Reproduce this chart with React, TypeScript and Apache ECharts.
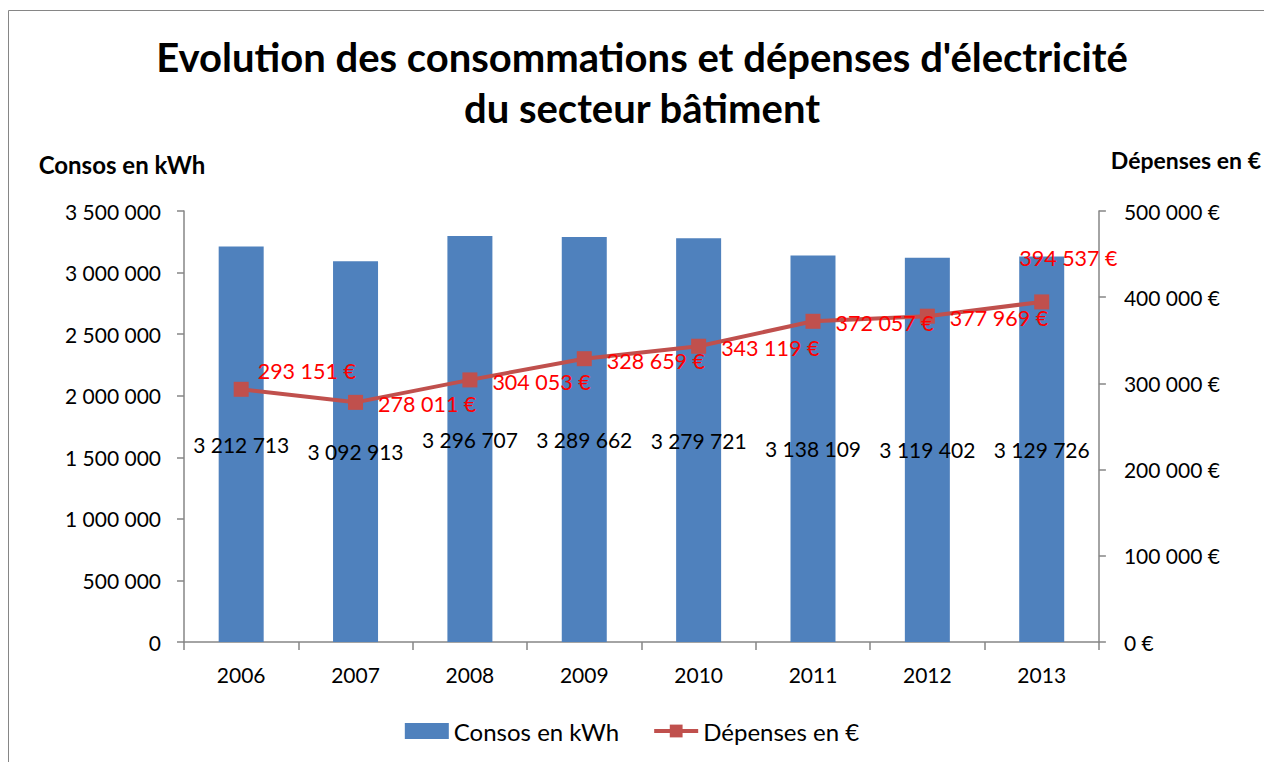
import React, { useEffect, useRef } from "react";
import * as echarts from "echarts";

const years = ["2006", "2007", "2008", "2009", "2010", "2011", "2012", "2013"];
const consos = [3212713, 3092913, 3296707, 3289662, 3279721, 3138109, 3119402, 3129726];
const depenses = [293151, 278011, 304053, 328659, 343119, 372057, 377969, 394537];
const titleLine1 = "Evolution des consommations et dépenses d'électricité";
const titleLine2 = "du secteur bâtiment";
const leftAxisName = "Consos en kWh";
const rightAxisName = "Dépenses en €";
const seriesNames = ["Consos en kWh", "Dépenses en €"];

const FONT = "Lato";
const fmt = (n: number) => Math.round(n).toString().replace(/\B(?=(\d{3})+(?!\d))/g, " ");

export default function App() {
  const ref = useRef<HTMLDivElement>(null);
  useEffect(() => {
    if (!ref.current) return;
    const chart = echarts.init(ref.current, null, { renderer: "svg" });
    const lineData = depenses.map((v, i) => {
      if (i === 0) return { value: v, label: { offset: [-6, -18] } };
      if (i === depenses.length - 1) return { value: v, label: { offset: [-45, -44] } };
      return { value: v, label: { offset: [0, 2] } };
    });
    chart.setOption({
      animation: false,
      backgroundColor: "#ffffff",
      textStyle: { fontFamily: FONT },
      title: [
        {
          text: titleLine1,
          left: 637,
          textAlign: "center",
          top: 32,
          textStyle: { fontFamily: FONT, fontSize: 40, fontWeight: "bold", color: "#000" },
        },
        {
          text: titleLine2,
          left: 637,
          textAlign: "center",
          top: 83,
          textStyle: { fontFamily: FONT, fontSize: 40, fontWeight: "bold", color: "#000" },
        },
      ],
      graphic: [
        {
          type: "rect",
          z: -10,
          shape: { x: 8.5, y: 10.5, width: 1300, height: 800 },
          style: { fill: "none", stroke: "#868686", lineWidth: 1 },
        },
      ],
      legend: {
        bottom: 19,
        left: "center",
        padding: [0, 0, 0, 28],
        itemWidth: 44,
        itemHeight: 16,
        itemGap: 33,
        textStyle: { fontFamily: FONT, fontSize: 24, color: "#000" },
        data: [
          { name: seriesNames[0], icon: "rect" },
          { name: seriesNames[1], lineStyle: { width: 4 } },
        ],
      },
      grid: { left: 184, right: 164, top: 211, bottom: 120 },
      xAxis: {
        type: "category",
        data: years,
        axisLine: { lineStyle: { color: "#868686", width: 1.5 } },
        axisTick: { show: true, length: 8, lineStyle: { color: "#868686", width: 1.5 } },
        axisLabel: { color: "#000", fontSize: 21, fontFamily: FONT, margin: 22 },
      },
      yAxis: [
        {
          type: "value",
          min: 0,
          max: 3500000,
          interval: 500000,
          name: leftAxisName,
          nameLocation: "end",
          nameGap: 35,
          nameTextStyle: {
            fontFamily: FONT,
            fontSize: 24,
            fontWeight: "bold",
            color: "#000",
            align: "center",
            padding: [0, 124, 0, 0],
          },
          splitLine: { show: false },
          axisLine: { show: true, lineStyle: { color: "#868686", width: 1.5 } },
          axisTick: { show: true, length: 7, lineStyle: { color: "#868686", width: 1.5 } },
          axisLabel: { color: "#000", fontSize: 21, fontFamily: FONT, margin: 23, formatter: (v: number) => fmt(v) },
        },
        {
          type: "value",
          min: 0,
          max: 500000,
          interval: 100000,
          position: "right",
          name: rightAxisName,
          nameLocation: "end",
          nameGap: 40,
          nameTextStyle: {
            fontFamily: FONT,
            fontSize: 23,
            fontWeight: "bold",
            color: "#000",
            align: "center",
            padding: [0, 0, 0, 174],
          },
          splitLine: { show: false },
          axisLine: { show: true, lineStyle: { color: "#868686", width: 1.5 } },
          axisTick: { show: true, length: 7, lineStyle: { color: "#868686", width: 1.5 } },
          axisLabel: { color: "#000", fontSize: 21, fontFamily: FONT, margin: 25, formatter: (v: number) => fmt(v) + " €" },
        },
      ],
      series: [
        {
          name: seriesNames[0],
          type: "bar",
          data: consos,
          barWidth: 45,
          itemStyle: { color: "#4F81BD" },
          label: {
            show: true,
            position: "inside",
            color: "#000",
            fontSize: 21,
            fontFamily: FONT,
            formatter: (p: any) => fmt(p.value),
          },
        },
        {
          name: seriesNames[1],
          type: "line",
          yAxisIndex: 1,
          data: lineData,
          symbol: "rect",
          symbolSize: 15,
          lineStyle: { color: "#C0504D", width: 4 },
          itemStyle: { color: "#C0504D" },
          label: {
            show: true,
            position: "right",
            distance: 15,
            color: "#FF0000",
            fontSize: 21.5,
            fontFamily: FONT,
            formatter: (p: any) => fmt(p.value) + " €",
          },
        },
      ],
    });
    return () => chart.dispose();
  }, []);
  return (
    <div
      ref={ref}
      style={{ position: "absolute", left: 0, top: 0, width: 1264, height: 762 }}
    />
  );
}
